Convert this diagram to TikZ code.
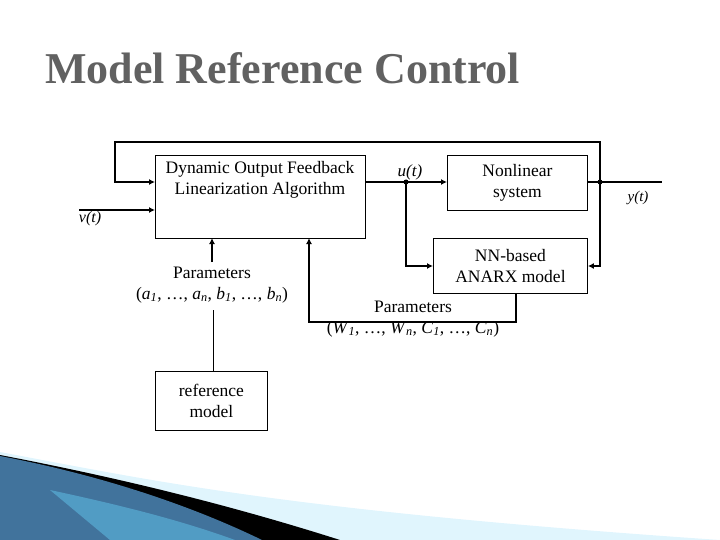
\documentclass[tikz,border=0pt]{standalone}
\usepackage{fontspec}
\setmainfont{Liberation Serif}
\usetikzlibrary{arrows.meta}
\newcommand{\sbi}[2]{\textit{#1}\textsubscript{\textit{#2}}}
\begin{document}
\begin{tikzpicture}[x=1pt,y=-1pt,
  blk/.style={draw,line width=0.9pt,inner sep=0pt,align=center,font=\fontsize{17.5}{21}\selectfont},
  ln/.style={line width=2pt},
  ar/.style={line width=2pt,-{Latex[length=6pt,width=6pt]}},
  lbl/.style={font=\fontsize{17.5}{21}\selectfont,inner sep=0pt},
  dot/.style={circle,fill,inner sep=0pt,minimum size=5pt}]
\useasboundingbox (0,0) rectangle (720,540);
% background swoosh
\fill[cyan!12!white] (0,452) .. controls (150,480) and (280,510) .. (720,540) -- (0,540) -- cycle;
\fill[black] (0,455) .. controls (120,478) and (230,505) .. (340,540) -- (0,540) -- cycle;
\fill[cyan!70!blue!65!black] (0,456) .. controls (100,475) and (190,505) .. (262,540) -- (0,540) -- cycle;
\fill[cyan!60!white,opacity=0.45] (50,490) .. controls (120,505) and (180,520) .. (235,540) -- (110,540) -- cycle;
% title
\node[anchor=base west,inner sep=0pt,font=\fontsize{44}{46}\selectfont\bfseries,text=black!62,
  preaction={}] (title) at (45,84) {Model Reference Control};
% blocks
\node[blk,minimum width=210pt,minimum height=83pt,anchor=north west] (dofl) at (155,155) {};
\node[lbl,align=center,anchor=north] (dofltxt) at (260,161) {Dynamic Output Feedback\\Linearization Algorithm};
\node[blk,minimum width=140pt,minimum height=55pt,anchor=north west] (nl) at (447,155) {Nonlinear\\system};
\node[blk,minimum width=154pt,minimum height=55pt,anchor=north west] (nn) at (433,238) {NN-based\\ANARX model};
\node[blk,minimum width=112pt,minimum height=59pt,anchor=north west] (ref) at (155,371) {reference\\model};
% coordinates
\coordinate (ud) at (406,182);
\coordinate (yd) at (600,182);
\coordinate (yend) at (662,182);
\coordinate (tl) at (115,142);
\coordinate (tr) at (600,142);
\coordinate (vin) at (79,210);
\node[dot] (udot) at (ud) {};
\node[dot] (ydot) at (yd) {};
% labels
\node[lbl,font=\fontsize{17}{18}\selectfont\itshape] (ulab) at (410,172) {u(t)};
\node[lbl,font=\fontsize{15}{18}\selectfont\itshape] (ylab) at (638,198) {y(t)};
\node[lbl,font=\fontsize{16}{18}\selectfont\itshape] (vlab) at (90,219) {v(t)};
\node[lbl,align=center] (p1) at (212,285) {Parameters\\(\sbi{a}{1}, \ldots, \sbi{a}{n}, \sbi{b}{1}, \ldots, \sbi{b}{n})};
\node[lbl,align=center] (p2) at (413,319) {Parameters\\(\sbi{W}{1}, \ldots, \sbi{W}{n}, \sbi{C}{1}, \ldots, \sbi{C}{n})};
% connectors
\draw[ar] (dofl.east |- ud) -- (nl.west |- ud);
\draw[ln] (nl.east |- yd) -- (yend);
\draw[ar] (yd) -- (tr) -- (tl) |- (dofl.west |- 0,182);
\draw[ar] (vin) -- (dofl.west |- vin);
\draw[ar] (ud) |- (nn.west |- 0,266);
\draw[ar] (yd) |- (nn.east |- 0,266);
\draw[ar] (212,262) -- (212,238);
\draw[line width=0.9pt] (213,310) -- (ref.north -| 213,0);
\draw[ar] (516,293) -- (516,322) -- (309,322) -- (309,238);
\end{tikzpicture}
\end{document}
